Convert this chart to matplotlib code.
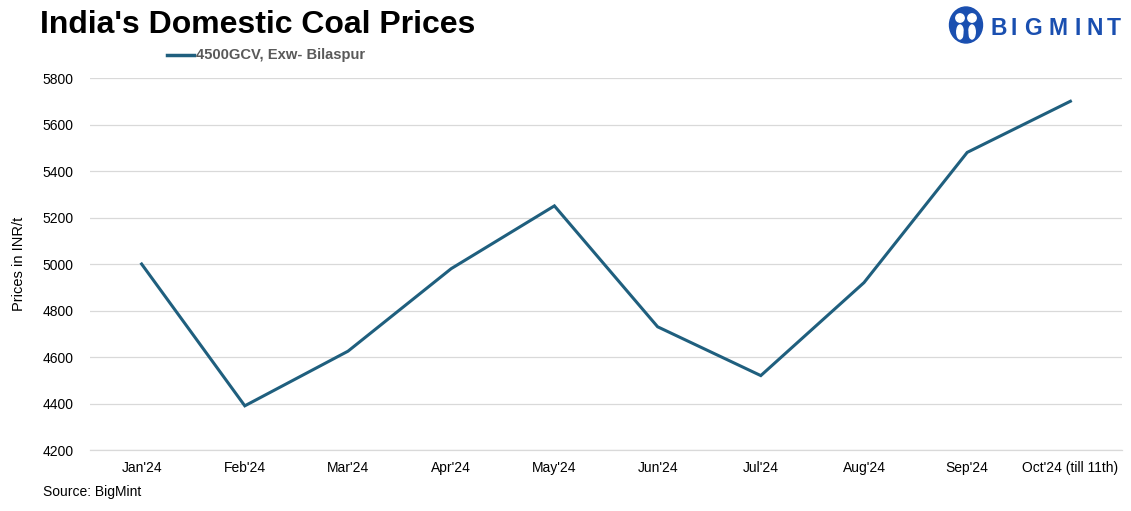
import matplotlib
matplotlib.use("Agg")
import matplotlib.pyplot as plt
from matplotlib.patches import Ellipse, Circle

months = ["Jan'24", "Feb'24", "Mar'24", "Apr'24", "May'24", "Jun'24",
          "Jul'24", "Aug'24", "Sep'24", "Oct'24 (till 11th)"]
prices = [5000, 4390, 4625, 4980, 5250, 4730, 4520, 4920, 5480, 5700]
series_name = "4500GCV, Exw- Bilaspur"
yticks = [4200, 4400, 4600, 4800, 5000, 5200, 5400, 5600, 5800]

plt.rcParams['font.family'] = ['Liberation Sans', 'DejaVu Sans']

W, H = 1131, 511
fig = plt.figure(figsize=(W / 100, H / 100), dpi=100)
ax = fig.add_axes([90 / W, 1 - 450 / H, (1122 - 90) / W, (450 - 78) / H])

line_color = '#1F5F7E'
x = list(range(len(months)))
ax.plot(x, prices, color=line_color, lw=2.2, solid_joinstyle='miter', zorder=3)
ax.set_xlim(-0.5, len(months) - 0.5)
ax.set_ylim(4200, 5800)
ax.set_yticks(yticks)
ax.set_yticklabels([str(v) for v in yticks])
ax.set_xticks(x)
ax.set_xticklabels(months)
ax.grid(axis='y', color='#D9D9D9', lw=0.9)
ax.axhline(4200, color='#D9D9D9', lw=0.9, clip_on=False, zorder=1)
ax.set_axisbelow(True)
for s in ax.spines.values():
    s.set_visible(False)
ax.tick_params(axis='both', length=0, labelsize=10, colors='#000000')
ax.tick_params(axis='y', pad=12)
ax.tick_params(axis='x', pad=8)
ax.set_ylabel("Prices in INR/t", fontsize=10.5, labelpad=12)

# Title
fig.text(40 / W, 1 - 25 / H, "India's Domestic Coal Prices", fontsize=23,
         fontweight='bold', va='center', ha='left', color='black')

# Legend
fig.add_artist(plt.Line2D([167 / W, 194 / W], [1 - 55 / H, 1 - 55 / H],
                          color=line_color, lw=2.5))
fig.text(196 / W, 1 - 55 / H, series_name, fontsize=10.6, fontweight='bold',
         color='#595959', va='center', ha='left')

# Source
fig.text(43 / W, 1 - 492 / H, "Source: BigMint", fontsize=10, va='center',
         ha='left', color='black')

# Logo
blue = '#1A4FB0'
lax = fig.add_axes([947 / W, 1 - 46 / H, 38 / W, 42 / H])
lax.set_xlim(0, 38)
lax.set_ylim(0, 42)
lax.axis('off')
lax.add_patch(Ellipse((19, 21), 33, 36, color=blue))
lax.add_patch(Circle((13, 28), 4.2, color='white'))
lax.add_patch(Circle((25, 28), 4.2, color='white'))
lax.add_patch(Ellipse((13, 14), 6.5, 14, color='white'))
lax.add_patch(Ellipse((25, 14), 6.5, 14, color='white'))
lax.add_patch(Ellipse((19, 12), 3.5, 14, color=blue))
logo_letters = ["B", "I", "G", "M", "I", "N", "T"]
logo_x = [991, 1011, 1024, 1048, 1074, 1086, 1107]
for ch, lx in zip(logo_letters, logo_x):
    fig.text(lx / W, 1 - 35 / H, ch, fontsize=16.5, fontweight='bold',
             color=blue, va='baseline', ha='left')

fig.savefig("out.png", dpi=100)
